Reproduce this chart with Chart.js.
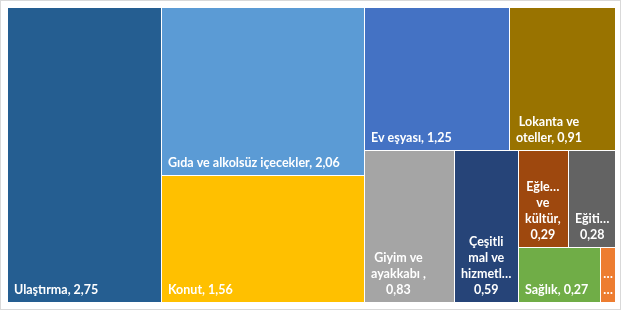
<!DOCTYPE html>
<html>
<head>
<meta charset="UTF-8">
<title>Treemap</title>
<script src="https://cdn.jsdelivr.net/npm/chart.js@4.4.0/dist/chart.umd.min.js"></script>
<style>
  html, body { margin: 0; padding: 0; background: #fff; }
</style>
</head>
<body>
<canvas id="myChart" width="624" height="311"></canvas>
<script>
// values (the last, unlabelled cell is an estimate)
const categories = ['Ulaştırma', 'Gıda ve alkolsüz içecekler', 'Konut', 'Ev eşyası', 'Lokanta ve oteller',
    'Giyim ve ayakkabı ', 'Çeşitli mal ve hizmetler', 'Eğlence ve kültür', 'Eğitim', 'Sağlık', 'Haberleşme'];
const values = [2.75, 2.06, 1.56, 1.25, 0.91, 0.83, 0.59, 0.29, 0.28, 0.27, 0.05];
const colors = ['#255E91', '#5B9BD5', '#FFC000', '#4472C4', '#997300',
    '#A5A5A5', '#264478', '#9E480E', '#636363', '#70AD47', '#ED7D31'];
// how many cells go in each strip, as in the picture
const strips = [1, 2, 2, 1, 1, 2, 1, 1];

// strip layout in value space (0..1 on both axes), orientation by pixel aspect
function layout(aspect) {
    let rect = {x: 0, y: 0, w: 1, h: 1};
    let rest = values.reduce((a, b) => a + b, 0);
    const cells = [];
    let i = 0;
    strips.forEach(function (n) {
        const group = values.slice(i, i + n);
        const sum = group.reduce((a, b) => a + b, 0);
        const frac = sum / rest;
        if (rect.w * aspect >= rect.h) {
            const cw = rect.w * frac;
            let y = rect.y;
            group.forEach(function (v) {
                const ch = rect.h * v / sum;
                cells.push({x: rect.x, y: y, w: cw, h: ch, i: i++});
                y += ch;
            });
            rect = {x: rect.x + cw, y: rect.y, w: rect.w - cw, h: rect.h};
        } else {
            const rh = rect.h * frac;
            let x = rect.x;
            group.forEach(function (v) {
                const cw = rect.w * v / sum;
                cells.push({x: x, y: rect.y, w: cw, h: rh, i: i++});
                x += cw;
            });
            rect = {x: rect.x, y: rect.y + rh, w: rect.w, h: rect.h - rh};
        }
        rest -= sum;
    });
    return cells;
}

function fit(ctx, s, maxW) {
    if (ctx.measureText(s).width <= maxW) return s;
    let t = s;
    while (t.length > 0 && ctx.measureText(t + '…').width > maxW) t = t.slice(0, -1);
    return t + '…';
}

function wrap(ctx, text, maxW) {
    const lines = [];
    let line = null;
    text.split(' ').forEach(function (w) {
        const test = line === null ? w : line + ' ' + w;
        if (line !== null && ctx.measureText(test).width > maxW) {
            lines.push(line);
            line = w;
        } else {
            line = test;
        }
    });
    lines.push(line);
    return lines.map(l => fit(ctx, l, maxW));
}

const treemap = {
    id: 'treemap',
    beforeDraw(chart) {
        const ctx = chart.ctx;
        ctx.save();
        ctx.fillStyle = '#fff';
        ctx.fillRect(0, 0, chart.width, chart.height);
        ctx.strokeStyle = '#d9d9d9';
        ctx.lineWidth = 1;
        ctx.strokeRect(0.5, 0.5, 620, 309);
        ctx.restore();
    },
    afterDatasetsDraw(chart) {
        const {ctx, chartArea, scales: {x, y}} = chart;
        const cells = layout((chartArea.right - chartArea.left) / (chartArea.bottom - chartArea.top));
        ctx.save();
        ctx.font = 'bold 12.5px Lato';
        ctx.textBaseline = 'alphabetic';
        ctx.textAlign = 'center';
        cells.forEach(function (c) {
            const l = Math.round(x.getPixelForValue(c.x));
            const r = Math.round(x.getPixelForValue(c.x + c.w));
            const t = Math.round(y.getPixelForValue(c.y));
            const b = Math.round(y.getPixelForValue(c.y + c.h));
            ctx.fillStyle = colors[c.i];
            ctx.fillRect(l, t, r - l - 1, b - t - 1);

            const label = categories[c.i] + ', ' + values[c.i].toFixed(2).replace('.', ',');
            const maxW = r - l - 11;
            const lines = wrap(ctx, label, maxW);
            const blockW = Math.max.apply(null, lines.map(s => ctx.measureText(s).width));
            let left = l + 6;
            if (blockW > maxW) left = l + (r - l - 1 - blockW) / 2;
            ctx.fillStyle = '#fff';
            lines.forEach(function (s, k) {
                ctx.fillText(s, left + blockW / 2, b - 9 - (lines.length - 1 - k) * 16);
            });
        });
        ctx.restore();
    }
};

new Chart(document.getElementById('myChart'), {
    type: 'scatter',
    data: {
        datasets: [{ data: [], pointRadius: 0 }]
    },
    options: {
        responsive: false,
        animation: false,
        layout: { padding: { left: 8, top: 8, right: 8, bottom: 8 } },
        scales: {
            x: { type: 'linear', min: 0, max: 1, display: false },
            y: { type: 'linear', min: 0, max: 1, reverse: true, display: false }
        },
        plugins: {
            legend: { display: false },
            tooltip: { enabled: false }
        }
    },
    plugins: [treemap]
});
</script>
</body>
</html>
